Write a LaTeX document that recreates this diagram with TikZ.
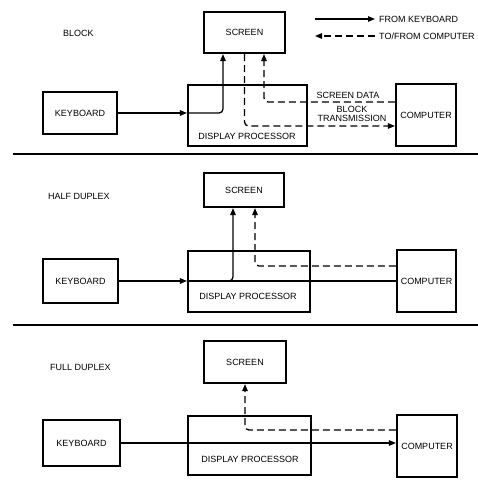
\documentclass[tikz,border=0pt]{standalone}
\usepackage{fontspec}
\setmainfont{Liberation Sans}
\usetikzlibrary{arrows.meta}
\begin{document}
\begin{tikzpicture}[x=1pt,y=-1pt,
  box/.style={draw, line width=2.2pt, inner sep=0pt, font=\fontsize{9}{9}\selectfont},
  txt/.style={font=\fontsize{9}{9}\selectfont, inner sep=1pt},
  conn/.style={line width=1.3pt},
  tip/.style={-{Triangle[length=7pt,width=5.5pt]}},
  dashln/.style={conn, dash pattern=on 7pt off 4pt},
  sep/.style={line width=2pt}]
\useasboundingbox (0,0) rectangle (478,480);

% ---------- legend ----------
\node[txt, anchor=west] (lgk) at (378,19) {FROM KEYBOARD};
\node[txt, anchor=west] (lgc) at (378,36) {TO/FROM COMPUTER};
\coordinate (lgks) at (315,19);
\coordinate (lgce) at (315,36);
\draw[conn, tip] (lgks) -- ([xshift=-3pt]lgk.west);
\draw[dashln, tip] ([xshift=-3pt]lgc.west) -- (lgce);

% ---------- BLOCK ----------
\node[txt, anchor=west] (lab1) at (62,33) {BLOCK};
\node[box, minimum width=81, minimum height=41] (scr1) at (244.5,32.5) {SCREEN};
\node[box, minimum width=74, minimum height=42] (kb1) at (80,113) {KEYBOARD};
\node[box, minimum width=119, minimum height=61] (dp1) at (247.5,115.5) {};
\node[txt] (dp1t) at (247,136) {DISPLAY PROCESSOR};
\node[box, minimum width=60, minimum height=62] (cp1) at (426,115) {COMPUTER};
\node[txt] (sd1) at (348,95) {SCREEN DATA};
\node[txt, align=center] (bt1) at (352,113.5) {BLOCK\\TRANSMISSION};

\draw[conn, tip] (kb1.east) -- (kb1.east -| dp1.west);
\draw[conn, tip, rounded corners=4pt] (kb1.east -| dp1.west) -| ([xshift=-21.5pt]scr1.south);
\draw[dashln, tip, rounded corners=4pt] (scr1.south) |- ([yshift=-11pt]cp1.west);
\draw[dashln, tip, rounded corners=4pt] ([yshift=13pt]cp1.west) -| ([xshift=19.5pt]scr1.south);

\coordinate (sep1a) at (13,154);
\coordinate (sep1b) at (478,154);
\draw[sep] (sep1a) -- (sep1b);

% ---------- HALF DUPLEX ----------
\node[txt, anchor=west] (lab2) at (47,196) {HALF DUPLEX};
\node[box, minimum width=80, minimum height=34] (scr2) at (244,190) {SCREEN};
\node[box, minimum width=75, minimum height=44] (kb2) at (80.5,281) {KEYBOARD};
\node[box, minimum width=122, minimum height=61] (dp2) at (249,281.5) {};
\node[txt] (dp2t) at (248,296) {DISPLAY PROCESSOR};
\node[box, minimum width=59, minimum height=62] (cp2) at (426.5,281) {COMPUTER};

\draw[conn, tip] (kb2.east) -- (kb2.east -| dp2.west);
\draw[conn] (kb2.east -| dp2.west) -- (kb2.east -| cp2.west);
\draw[conn, tip, rounded corners=4pt] (kb2.east -| dp2.west) -| ([xshift=-11pt]scr2.south);
\draw[dashln, tip, rounded corners=4pt] ([yshift=15pt]cp2.west) -| ([xshift=11pt]scr2.south);

\coordinate (sep2a) at (13,325);
\coordinate (sep2b) at (478,325);
\draw[sep] (sep2a) -- (sep2b);

% ---------- FULL DUPLEX ----------
\node[txt, anchor=west] (lab3) at (49,367) {FULL DUPLEX};
\node[box, minimum width=82, minimum height=42] (scr3) at (245,362) {SCREEN};
\node[box, minimum width=77, minimum height=46] (kb3) at (81.5,443) {KEYBOARD};
\node[box, minimum width=123, minimum height=59] (dp3) at (249.5,445.5) {};
\node[txt] (dp3t) at (250,459) {DISPLAY PROCESSOR};
\node[box, minimum width=60, minimum height=62] (cp3) at (427,446) {COMPUTER};

\draw[conn, tip] (kb3.east) -- (kb3.east -| cp3.west);
\draw[dashln, tip, rounded corners=4pt] ([yshift=16pt]cp3.west) -| (scr3.south);
\end{tikzpicture}
\end{document}
